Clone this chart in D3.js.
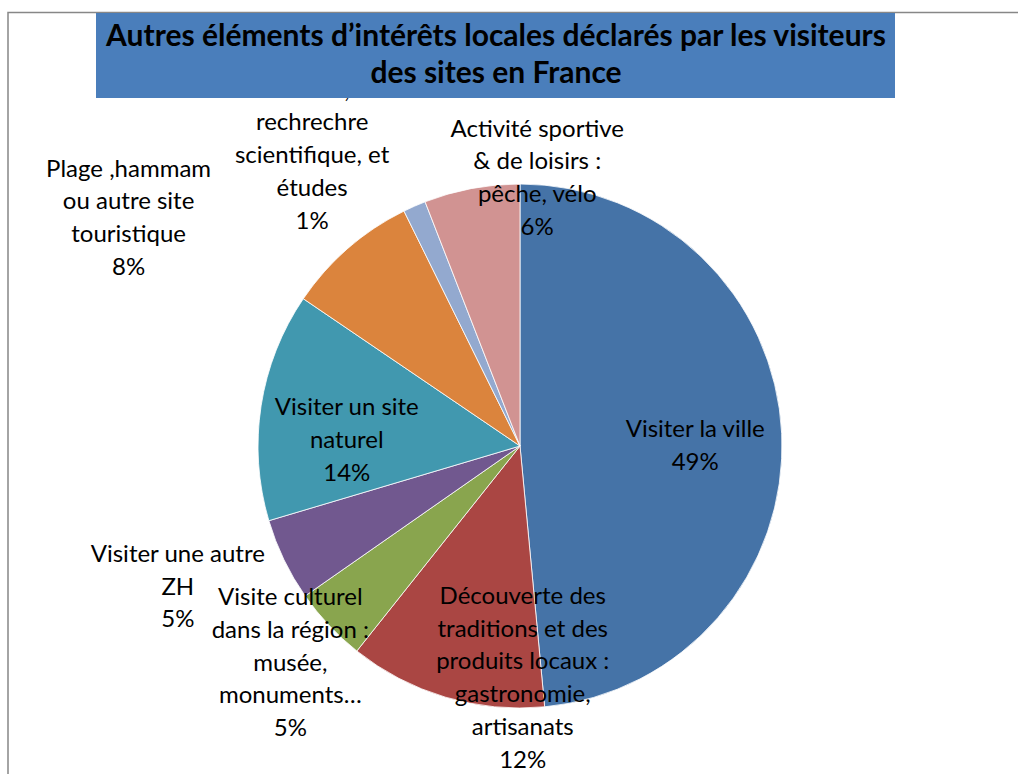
<!DOCTYPE html>
<html>
<head>
<meta charset="utf-8">
<script src="https://cdn.jsdelivr.net/npm/d3@7"></script>
<style>
  body { margin: 0; background: #fff; }
  svg { display: block; }
  text { font-family: Lato, "Open Sans", sans-serif; fill: #000; }
</style>
</head>
<body>
<div id="chart"></div>
<script>
// chart values (clockwise from 12 o'clock)
const categories = [
    "Visiter la ville",
    "Découverte des traditions et des produits locaux : gastronomie, artisanats",
    "Visite culturel dans la région : musée, monuments…",
    "Visiter une autre ZH",
    "Visiter un site naturel",
    "Plage ,hammam ou autre site touristique",
    "terrain, rechrechre scientifique, et études",
    "Activité sportive & de loisirs : pêche, vélo"
];
const values = [48.5, 12.2, 4.6, 5.1, 14.1, 8.2, 1.4, 5.9];

// label text, broken the way the picture wraps it
const labelLines = [
    ["Visiter la ville"],
    ["Découverte des", "traditions et des", "produits locaux :", "gastronomie,", "artisanats"],
    ["Visite culturel", "dans la région :", "musée,", "monuments…"],
    ["Visiter une autre", "ZH"],
    ["Visiter un site", "naturel"],
    ["Plage ,hammam", "ou autre site", "touristique"],
    ["terrain,", "rechrechre", "scientifique, et", "études"],
    ["Activité sportive", "& de loisirs :", "pêche, vélo"]
];
const colors = ["#4573a7", "#aa4643", "#89a54e", "#71588f", "#4198af", "#db843d", "#93a9cf", "#d19392"];

const titleLines = ["Autres éléments d’intérêts locales déclarés par les visiteurs", "des sites en France"];

const width = 1018, height = 774;
const cx = 520, cy = 446, radius = 262;
const lineH = 32.7;

// shift of each label from the slice centroid (Excel moved them by hand)
const labelNudge = [[-8, 16], [55, 64], [-96, 99], [-177, 69], [8, 30], [-271, -82], [-134, -115], [51, -80]];

const svg = d3.select("#chart")
    .append("svg")
    .attr("width", width)
    .attr("height", height);

// frame of the chart area (only top & left are visible)
svg.append("path")
    .attr("d", `M8,${height} L8,12.5 L${width},12.5`)
    .attr("fill", "none")
    .attr("stroke", "#878787")
    .attr("stroke-width", 1.5);

const pie = d3.pie().sort(null).value(d => d);
const arcs = pie(values);

const arc = d3.arc().innerRadius(0).outerRadius(radius);
const labelArc = d3.arc().innerRadius(radius * 0.7).outerRadius(radius * 0.7);

const g = svg.append("g")
    .attr("transform", `translate(${cx},${cy})`);

g.selectAll("path.slice")
    .data(arcs)
    .join("path")
    .attr("class", "slice")
    .attr("d", arc)
    .attr("fill", (d, i) => colors[i])
    .attr("stroke", "#fff")
    .attr("stroke-width", 0.8);

// labels: name lines + percent
const labels = g.selectAll("text.lbl")
    .data(arcs)
    .join("text")
    .attr("class", "lbl")
    .attr("text-anchor", "middle")
    .style("font-size", "24px");

labels.each(function(d, i) {
    const lines = labelLines[i].concat([Math.round(values[i]) + "%"]);
    const c = labelArc.centroid(d);
    const x = c[0] + labelNudge[i][0];
    const y = c[1] + labelNudge[i][1];
    const top = y - (lines.length - 1) * lineH / 2;
    d3.select(this).selectAll("tspan")
        .data(lines)
        .join("tspan")
        .attr("x", x)
        .attr("y", (t, k) => top + k * lineH)
        .text(t => t);
});

// title box (drawn last, it hides the first line of one label)
svg.append("rect")
    .attr("x", 96)
    .attr("y", 13)
    .attr("width", 799)
    .attr("height", 85)
    .attr("fill", "#4a7ebb");

svg.append("text")
    .attr("text-anchor", "middle")
    .style("font-size", "30px")
    .style("font-weight", "bold")
    .selectAll("tspan")
    .data(titleLines)
    .join("tspan")
    .attr("x", 496)
    .attr("y", (t, k) => 46 + k * 37)
    .text(t => t);
</script>
</body>
</html>
